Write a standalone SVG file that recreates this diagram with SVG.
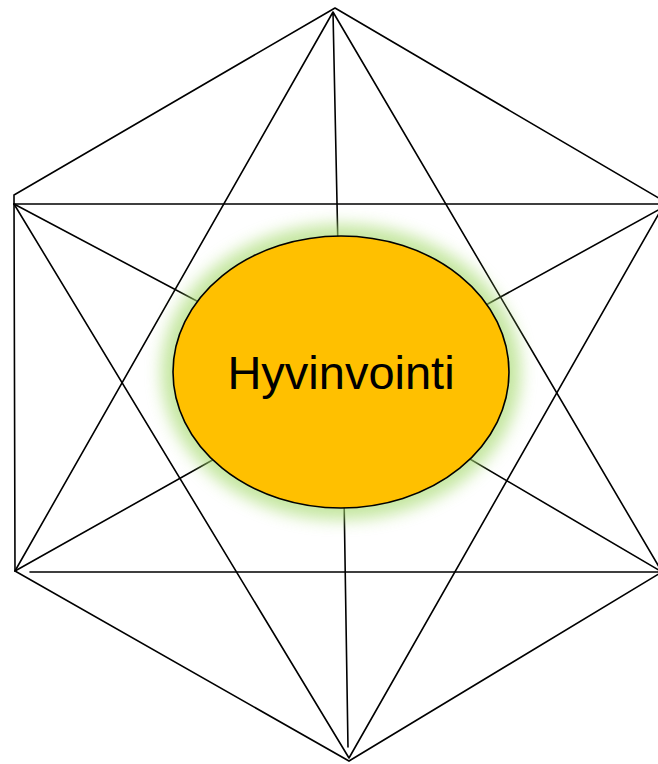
<svg xmlns="http://www.w3.org/2000/svg" width="658" height="764" viewBox="0 0 658 764">
<style>
.l{stroke:#000;stroke-width:1.6;fill:none;stroke-linecap:round}
.t{font-family:"Liberation Sans",Arial,sans-serif;font-size:47px;fill:#000}
</style>
<defs>
<filter id="glow" x="-20%" y="-20%" width="140%" height="140%">
<feGaussianBlur stdDeviation="8"/>
</filter>
</defs>
<rect width="658" height="764" fill="#fff"/>
<g id="connectors">
<path class="l" d="M335,8 L14,195 L15,571 L349,761 L662,572 M335,8 L662,200"/>
<path class="l" d="M14,204 L662,204 M30,572 L662,572"/>
<path class="l" d="M333,12 L15,571 M333,12 L662,572 M333,12 L338,250"/>
<path class="l" d="M349,758 L14,204 M349,758 L662,208 M348,747 L344,495"/>
<path class="l" d="M14,204 L210,308 M662,208 L475,311 M15,571 L225,453 M662,572 L458,452"/>
</g>
<g id="hyvinvointi">
<ellipse cx="341" cy="372" rx="180" ry="148" fill="#A6DA6E" opacity="0.65" filter="url(#glow)"/>
<ellipse cx="341" cy="372" rx="168" ry="136" fill="#FFC000" stroke="#000" stroke-width="1.6"/>
<text class="t" x="341" y="389" text-anchor="middle">Hyvinvointi</text>
</g>
</svg>
